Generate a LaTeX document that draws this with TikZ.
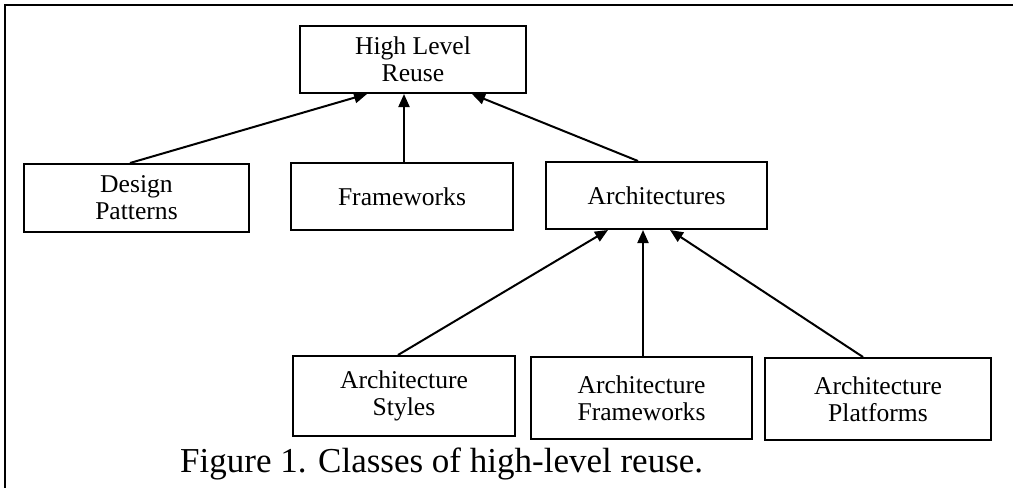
\documentclass[tikz,border=0pt]{standalone}
\usepackage{fontspec}
\setmainfont{Liberation Serif}
\usetikzlibrary{arrows.meta}
\begin{document}
\begin{tikzpicture}[x=1pt,y=-1pt,
  box/.style={draw, line width=2pt, rectangle, align=center, inner sep=0pt,
    font=\fontsize{25.6}{27}\selectfont},
  arr/.style={line width=2pt, -{Triangle[length=13pt,width=11pt]}}]
\useasboundingbox (0,0) rectangle (1013,488);
\draw[line width=2.2pt] (1013,5) -- (5,5) -- (5,488);
\node[box, minimum width=226pt, minimum height=67pt] (hlr) at (413,59.5) {High Level\\Reuse};
\node[box, minimum width=225pt, minimum height=68pt] (dp) at (136.5,198) {Design\\Patterns};
\node[box, minimum width=222pt, minimum height=67pt] (fw) at (402,196.5) {Frameworks};
\node[box, minimum width=221pt, minimum height=67pt] (ar) at (656.5,195.5) {Architectures};
\node[box, minimum width=222pt, minimum height=80pt] (as) at (404,396) {Architecture\\Styles};
\node[box, minimum width=221pt, minimum height=82pt] (af) at (641.5,398) {Architecture\\Frameworks};
\node[box, minimum width=226pt, minimum height=82pt] (ap) at (878,399) {Architecture\\Platforms};
\draw[arr] ([xshift=-6.5pt]dp.north) -- ([xshift=-46pt]hlr.south);
\draw[arr] ([xshift=2pt]fw.north) -- ([xshift=-9pt]hlr.south);
\draw[arr] ([xshift=-18.5pt]ar.north) -- ([xshift=59pt]hlr.south);
\draw[arr] ([xshift=-6pt]as.north) -- ([xshift=-48.5pt]ar.south);
\draw[arr] ([xshift=1.5pt]af.north) -- ([xshift=-13.5pt]ar.south);
\draw[arr] ([xshift=-15pt]ap.north) -- ([xshift=13.5pt]ar.south);
\node[anchor=base west, inner sep=0pt, font=\fontsize{35}{40}\selectfont] (cap) at (180,472) {Figure 1. Classes of high-level reuse.};
\end{tikzpicture}
\end{document}
